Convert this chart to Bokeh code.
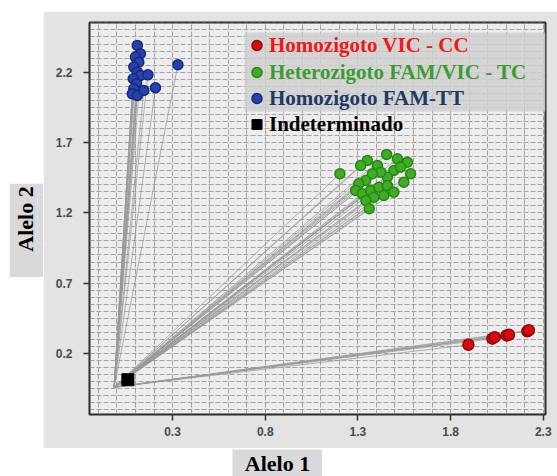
from bokeh.plotting import figure
from bokeh.layouts import row, column
from bokeh.models import (FixedTicker, SingleIntervalTicker, Range1d, Legend,
                          LegendItem, BoxAnnotation)
from bokeh.core.properties import value
from bokeh.embed import file_html
from bokeh.resources import INLINE

# ---------------- data ----------------
vic_x = [1.896, 2.025, 2.038, 2.102, 2.115, 2.214, 2.222]
vic_y = [0.262, 0.305, 0.316, 0.328, 0.333, 0.358, 0.365]

het_x = [1.203, 1.455, 1.351, 1.405, 1.513, 1.567, 1.584, 1.548, 1.494, 1.459,
         1.423, 1.378, 1.342, 1.305, 1.288, 1.324, 1.369, 1.413, 1.459, 1.494,
         1.440, 1.386, 1.343, 1.361, 1.530, 1.315]
het_y = [1.478, 1.615, 1.572, 1.537, 1.584, 1.560, 1.478, 1.418, 1.501, 1.453,
         1.489, 1.478, 1.430, 1.407, 1.359, 1.335, 1.359, 1.382, 1.394, 1.347,
         1.323, 1.311, 1.288, 1.229, 1.525, 1.537]

fam_x = [0.110, 0.127, 0.100, 0.118, 0.091, 0.110, 0.127, 0.088, 0.106, 0.091,
         0.083, 0.110, 0.167, 0.208, 0.145, 0.329]
fam_y = [2.390, 2.331, 2.307, 2.271, 2.236, 2.200, 2.177, 2.153, 2.118, 2.082,
         2.046, 2.034, 2.181, 2.089, 2.070, 2.253]

und_x = [0.059]
und_y = [0.013]

origin_x = -0.015
origin_y = -0.040

x_ticks = [0.3, 0.8, 1.3, 1.8, 2.3]
y_ticks = [0.2, 0.7, 1.2, 1.7, 2.2]

labels = ["Homozigoto VIC - CC", "Heterozigoto FAM/VIC - TC",
          "Homozigoto FAM-TT", "Indeterminado"]
label_colors = ["#f01818", "#3c9c32", "#1f3864", "#000000"]
x_title = "Alelo 1"
y_title = "Alelo 2"

PANEL = "#e3e3e3"
TITLE_BG = "#d9d9d9"

# ---------------- main figure (gray panel) ----------------
p = figure(width=514, height=437, output_backend="svg", toolbar_location=None,
           x_range=Range1d(-0.148, 2.312), y_range=Range1d(-0.234, 2.553),
           min_border_left=46, min_border_right=12, min_border_top=11,
           min_border_bottom=34, title=None)
p.margin = (11, 0, 0, 0)
p.border_fill_color = PANEL
p.background_fill_color = "#ededed"
p.outline_line_color = "#2a2a2a"
p.outline_line_width = 2

for ax in (p.xaxis[0], p.yaxis[0]):
    ax.axis_line_color = None
    ax.major_tick_line_color = "#333333"
    ax.major_tick_line_width = 1.5
    ax.major_tick_out = 6
    ax.major_tick_in = 0
    ax.minor_tick_line_color = None
    ax.major_label_text_font = "Liberation Sans"
    ax.major_label_text_font_style = "bold"
    ax.major_label_text_font_size = "12px"
    ax.major_label_text_color = "#4a4a4a"
p.xaxis.ticker = FixedTicker(ticks=x_ticks)
p.yaxis.ticker = FixedTicker(ticks=y_ticks)
p.xaxis.major_label_standoff = 6
p.yaxis.major_label_standoff = 11

p.xgrid.ticker = SingleIntervalTicker(interval=0.1)
p.ygrid.ticker = SingleIntervalTicker(interval=0.05)
for g in (p.xgrid[0], p.ygrid[0]):
    g.grid_line_color = "#8a8a8a"
    g.grid_line_alpha = 0.75
    g.grid_line_dash = "5 2"
    g.grid_line_width = 1

# trajectories
line_col = "#9a9a9a"
for xs, ys in ((fam_x, fam_y), (het_x, het_y), (vic_x, vic_y)):
    p.segment(x0=[origin_x] * len(xs), y0=[origin_y] * len(ys), x1=xs, y1=ys,
              line_color=line_col, line_width=1, line_alpha=0.75)
p.segment(x0=[origin_x], y0=[origin_y], x1=und_x, y1=und_y,
          line_color=line_col, line_width=2, line_alpha=0.9)

# points
r_vic = p.scatter(vic_x, vic_y, marker="circle", size=11, fill_color="#dd0a0a",
                  line_color="#8a0c0c", line_width=1.5)
r_het = p.scatter(het_x, het_y, marker="circle", size=10, fill_color="#3cae22",
                  line_color="#2a8418", line_width=1.5)
r_fam = p.scatter(fam_x, fam_y, marker="circle", size=10, fill_color="#2342b8",
                  line_color="#1b2a6b", line_width=1.5)
r_und = p.scatter(und_x, und_y, marker="square", size=12, fill_color="black",
                  line_color="black")

# legend background (first three rows)
leg_bg = BoxAnnotation(left=201, right=502, top=21, bottom=100,
                       left_units="canvas", right_units="canvas",
                       top_units="canvas", bottom_units="canvas",
                       fill_color="#cfcfcf", fill_alpha=0.85, line_color=None)
p.add_layout(leg_bg)

rows_y = [356, 329, 303, 277]
for lab, col, rend, ry in zip(labels, label_colors,
                              (r_vic, r_het, r_fam, r_und), rows_y):
    lg = Legend(items=[LegendItem(label=lab, renderers=[rend])],
                location=(155, ry), orientation="vertical",
                background_fill_alpha=0, border_line_color=None,
                label_text_font="Liberation Serif", label_text_font_style="bold",
                label_text_font_size="21px", label_text_color=col,
                glyph_width=25, glyph_height=26, label_height=26,
                padding=0, margin=0, spacing=0, label_standoff=0)
    p.add_layout(lg)

# ---------------- axis title boxes ----------------
def blank_box(w, h):
    f = figure(width=w, height=h, output_backend="svg", toolbar_location=None,
               x_range=Range1d(0, 1), y_range=Range1d(0, 1),
               x_axis_type=None, y_axis_type=None, title=None,
               min_border=0, min_border_left=0, min_border_right=0,
               min_border_top=0, min_border_bottom=0)
    f.border_fill_color = TITLE_BG
    f.background_fill_color = TITLE_BG
    f.outline_line_color = None
    return f

# y title: a tick-less left axis whose label is the title
ylab = figure(width=34, height=94, output_backend="svg", toolbar_location=None,
              x_range=Range1d(0, 1), y_range=Range1d(0, 1),
              x_axis_type=None, title=None,
              min_border=0, min_border_left=0, min_border_right=0,
              min_border_top=0, min_border_bottom=0)
ylab.border_fill_color = TITLE_BG
ylab.background_fill_color = TITLE_BG
ylab.outline_line_color = None
ylab.grid.visible = False
yax = ylab.yaxis[0]
yax.ticker = FixedTicker(ticks=[])
yax.axis_line_color = None
yax.major_tick_line_color = None
yax.minor_tick_line_color = None
yax.major_tick_out = 0
yax.major_label_standoff = 0
yax.axis_label = y_title
yax.axis_label_standoff = 0
yax.axis_label_text_font = "Liberation Serif"
yax.axis_label_text_font_style = "bold"
yax.axis_label_text_font_size = "22px"
yax.axis_label_text_color = "black"
ylab.margin = (183, 0, 0, 9)

xlab = blank_box(90, 27)
xlab.text(x=[0.5], y=[0.5], text=[x_title],
          text_align="center", text_baseline="middle",
          text_font=value("Liberation Serif"), text_font_style="bold",
          text_font_size="22px", text_color="black")
xlab.margin = (1, 0, 0, 232)

layout = column(row(ylab, p, spacing=0), xlab, spacing=0)
layout.margin = 0

open("out.html", "w").write(file_html(layout, INLINE))
